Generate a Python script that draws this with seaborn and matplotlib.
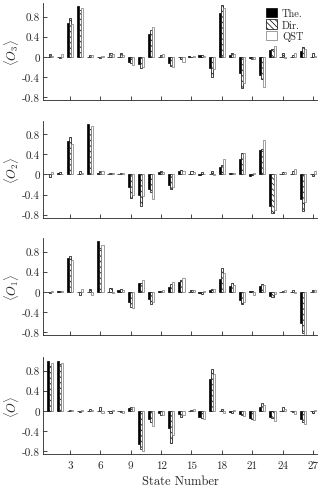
import numpy as np
import pandas as pd
import matplotlib
matplotlib.use('Agg')
import matplotlib.pyplot as plt
import seaborn as sns

# 状态编号
states = list(range(1, 28))
series_names = ['The.', 'Dir.', 'QST']

# <O3>
o3_the = [0, 0, 0.67, 1.0, 0, 0, 0, 0, -0.10, -0.15, 0.45, 0, -0.12, -0.01, 0.02, 0.03, -0.22, 0.88, 0.04, -0.33, -0.02, -0.37, 0.13, 0, 0, 0.12, 0]
o3_dir = [0.05, -0.02, 0.77, 0.93, 0.03, -0.03, 0.07, 0.08, -0.12, -0.22, 0.53, 0.03, -0.18, -0.05, -0.01, 0.04, -0.40, 1.02, 0.07, -0.63, -0.04, -0.45, 0.15, 0.08, 0.03, 0.19, 0.07]
o3_qst = [0.02, 0.05, 0.65, 0.96, 0.03, 0.02, 0.05, 0.04, -0.17, -0.20, 0.60, 0.06, -0.20, -0.10, 0.01, 0.02, -0.25, 0.97, 0.06, -0.53, -0.05, -0.60, 0.22, -0.02, 0.08, 0.15, 0.01]

# <O2>
o2_the = [0, 0.02, 0.67, 0, 1.0, 0.02, 0, 0, -0.25, -0.41, -0.28, 0.04, -0.20, 0.06, 0, -0.02, 0, 0.15, 0.02, 0.31, -0.03, 0.48, -0.62, 0, 0, -0.48, 0]
o2_dir = [-0.05, 0.04, 0.75, 0.07, 0.90, 0.07, 0.03, 0.02, -0.46, -0.62, -0.35, 0.06, -0.28, 0.08, 0.07, 0.04, 0.06, 0.18, 0.03, 0.43, -0.02, 0.50, -0.77, 0.04, 0.07, -0.72, -0.04]
o2_qst = [0.05, 0.01, 0.60, 0.02, 0.96, 0.06, 0.02, 0.02, -0.40, -0.42, -0.48, 0.04, -0.25, 0.07, 0.05, 0, -0.02, 0.30, 0.03, 0.42, 0.02, 0.68, -0.70, 0.05, 0.10, -0.55, 0.06]

# <O1>
o1_the = [0, 0.01, 0.68, 0, 0, 1.0, 0, 0.04, -0.21, 0.17, -0.14, 0.01, 0.10, 0.19, 0, -0.02, 0.03, 0.26, 0.12, -0.16, 0.02, 0.12, -0.08, 0, 0, -0.62, 0]
o1_dir = [-0.02, 0.02, 0.71, -0.07, 0.06, 0.88, 0.08, 0.06, -0.30, 0.18, -0.24, 0.02, 0.16, 0.24, 0.04, -0.05, 0.06, 0.47, 0.18, -0.25, 0.01, 0.16, -0.10, 0.01, 0.03, -0.83, 0.04]
o1_qst = [0.02, 0.02, 0.63, 0.06, -0.06, 0.93, -0.03, 0.03, -0.33, 0.23, -0.20, 0.04, 0.19, 0.28, 0.04, 0.02, 0.05, 0.37, 0.13, -0.20, -0.06, 0.14, -0.05, 0.04, -0.02, -0.87, 0.03]

# <O>
o_the = [1.0, 1.0, 0, 0, 0, 0, 0, -0.01, 0.06, -0.66, -0.17, -0.05, -0.34, -0.07, 0, -0.12, 0.64, 0, -0.02, -0.07, -0.14, 0.08, -0.12, 0, 0, -0.17, 0]
o_dir = [0.90, 0.93, 0.02, -0.02, 0.03, 0.08, -0.04, -0.03, 0.08, -0.76, -0.22, -0.08, -0.65, -0.12, 0.02, -0.14, 0.84, 0.03, -0.05, -0.09, -0.16, 0.15, -0.15, 0.07, -0.02, -0.22, -0.05]
o_qst = [0.95, 0.96, 0.02, 0.01, 0.02, -0.05, 0.02, -0.04, 0.07, -0.80, -0.30, -0.08, -0.48, -0.09, 0.03, -0.17, 0.73, -0.05, 0.02, -0.11, -0.18, 0.12, -0.21, 0.04, -0.07, -0.27, 0.01]

panels = [
    (r'$\langle O_3\rangle$', o3_the, o3_dir, o3_qst),
    (r'$\langle O_2\rangle$', o2_the, o2_dir, o2_qst),
    (r'$\langle O_1\rangle$', o1_the, o1_dir, o1_qst),
    (r'$\langle O\rangle$', o_the, o_dir, o_qst),
]

sns.set_style('ticks')
plt.rcParams['font.family'] = ['cmr10', 'DejaVu Serif']
plt.rcParams['mathtext.fontset'] = 'cm'
plt.rcParams['hatch.linewidth'] = 0.5
plt.rcParams['axes.unicode_minus'] = False

fig = plt.figure(figsize=(3.24, 4.89), dpi=100)
bottoms = [0.7935, 0.5528, 0.3129, 0.0695]

for i, (ylab, the, dr, qst) in enumerate(panels):
    ax = fig.add_axes([0.1327, bottoms[i], 0.8457, 0.1984])
    df = pd.DataFrame({
        'state': states * 3,
        'value': the + dr + qst,
        'series': [s for s in series_names for _ in states],
    })
    sns.barplot(data=df, x='state', y='value', hue='series', hue_order=series_names,
                native_scale=True, width=0.62, legend=False, ax=ax,
                palette=['black', 'white', 'white'])
    styles = [dict(fc='black', ec='black', hatch=None),
              dict(fc='white', ec='black', hatch='\\\\\\\\\\\\'),
              dict(fc='white', ec='#777777', hatch=None)]
    for cont, st in zip(ax.containers, styles):
        for p in cont.patches:
            p.set_facecolor(st['fc'])
            p.set_edgecolor(st['ec'])
            p.set_linewidth(0.5)
            if st['hatch']:
                p.set_hatch(st['hatch'])
    ax.set_xlim(0.33, 27.4)
    ax.set_ylim(-0.86, 1.07)
    ax.set_yticks([-0.8, -0.4, 0, 0.4, 0.8])
    ax.set_yticklabels(['-0.8', '-0.4', '0', '0.4', '0.8'], fontsize=8)
    ax.set_xticks(list(range(3, 28, 3)))
    if i == 3:
        ax.set_xticklabels([str(t) for t in range(3, 28, 3)], fontsize=8)
        ax.set_xlabel('State Number', fontsize=9, labelpad=3)
    else:
        ax.set_xticklabels([])
        ax.set_xlabel('')
    ax.set_ylabel(ylab, fontsize=9, labelpad=1)
    ax.tick_params(direction='in', length=3, width=0.6, pad=2)
    ax.tick_params(axis='x', pad=5)
    sns.despine(ax=ax)
    for sp in ['left', 'bottom']:
        ax.spines[sp].set_linewidth(0.6)
    if i == 0:
        ax.legend(ax.containers, series_names, loc='upper right', frameon=False,
                  fontsize=7.5, handlelength=1.0, handleheight=1.0, handletextpad=0.5,
                  labelspacing=0.1, borderaxespad=0.1, bbox_to_anchor=(0.97, 1.0))

fig.savefig('out.png', dpi=100)
